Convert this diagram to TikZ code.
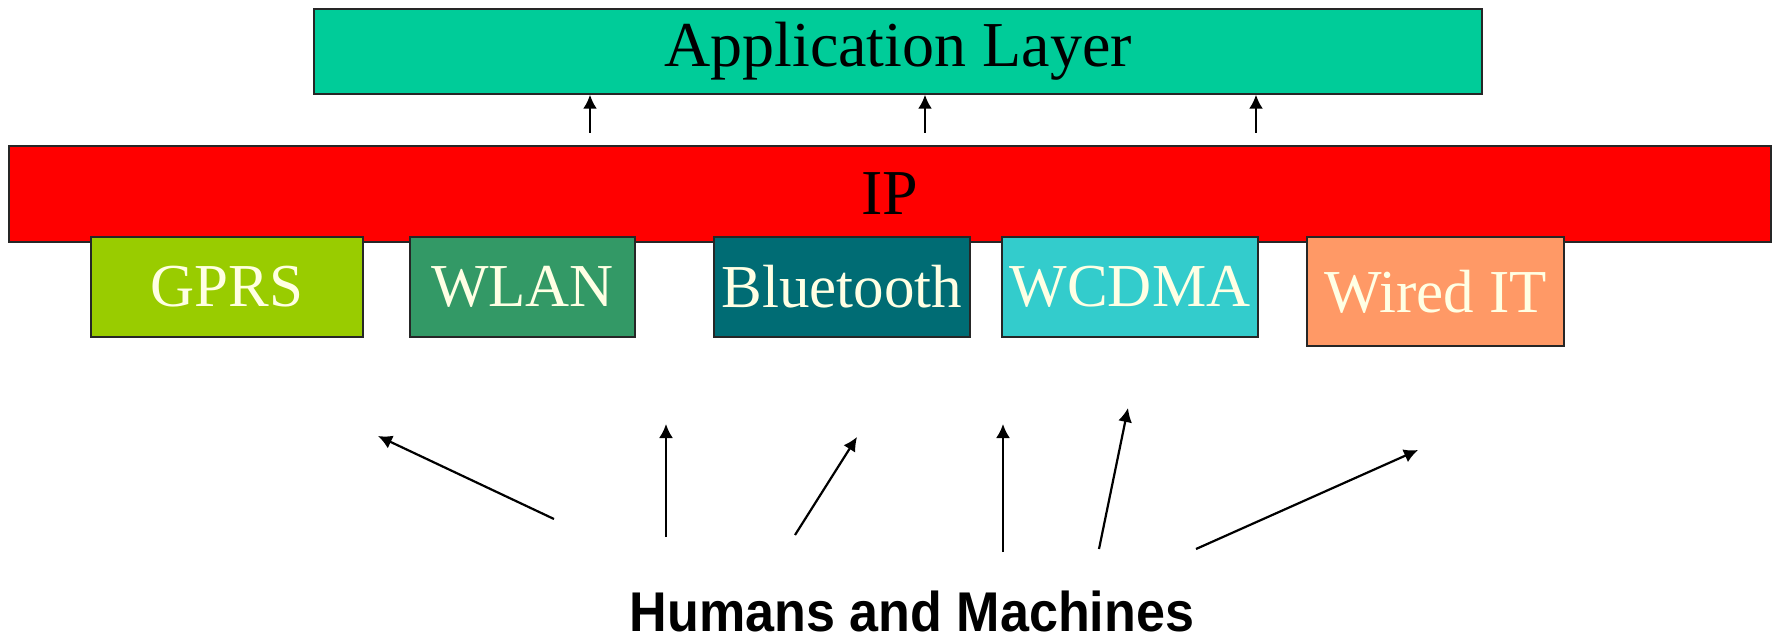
\documentclass[tikz,border=0pt]{standalone}
\usepackage{fontspec}
\setmainfont{Liberation Serif}
\setsansfont{Liberation Sans}
\usetikzlibrary{arrows.meta}

\definecolor{appc}{RGB}{0,204,153}
\definecolor{ipc}{RGB}{255,0,0}
\definecolor{gprsc}{RGB}{153,204,0}
\definecolor{wlanc}{RGB}{51,153,102}
\definecolor{btc}{RGB}{0,108,116}
\definecolor{wcdmac}{RGB}{51,204,204}
\definecolor{wiredc}{RGB}{255,153,102}
\definecolor{labc}{RGB}{255,255,228}

\tikzset{
  layer/.style={draw=black!85, line width=1.5pt, inner sep=0pt, font=\fontsize{64}{64}\selectfont},
  link/.style={layer, minimum height=100pt, text=labc, font=\fontsize{61}{61}\selectfont},
  arr/.style={line width=2.2pt, arrows={-Latex[length=14pt,width=14pt]}}
}

\begin{document}
\begin{tikzpicture}[x=1pt,y=-1pt]
      \useasboundingbox (0,0) rectangle (1777,644);

      \node[layer,fill=appc,minimum width=1168pt,minimum height=85pt] (app) at (898,51.5) {Application Layer};
      \node[layer,fill=ipc,minimum width=1762pt,minimum height=96pt] (ip) at (890,194) {IP};

      \node[link,fill=gprsc,minimum width=272pt] (gprs) at (227,287) {GPRS};
      \node[link,fill=wlanc,minimum width=225pt] (wlan) at (522.5,287) {WLAN};
      \node[link,fill=btc,minimum width=256pt] (bt) at (842,287) {Bluetooth};
      \node[link,fill=wcdmac,minimum width=256pt] (wcdma) at (1130,287) {WCDMA};
      \node[link,fill=wiredc,minimum width=257pt,minimum height=109pt] (wired) at (1435.5,291.5) {Wired IT};

      \node[font=\sffamily\bfseries\fontsize{56}{56}\selectfont,inner sep=0pt,anchor=base] (hm) at (912,631) {\scalebox{0.93}[1]{Humans and Machines}};

      % IP up to the application layer
      \coordinate (up1) at (590,133);
      \coordinate (up2) at (925,133);
      \coordinate (up3) at (1256,133);
      \draw[arr] (up1) -- (up1 |- app.south);
      \draw[arr] (up2) -- (up2 |- app.south);
      \draw[arr] (up3) -- (up3 |- app.south);

      % humans and machines to the links
      \coordinate (src1) at (554,519);
      \coordinate (src2) at (666,537);
      \coordinate (src3) at (795,535);
      \coordinate (src4) at (1003,552);
      \coordinate (src5) at (1099,549);
      \coordinate (src6) at (1196,549);

      \coordinate (tip1) at (378,436);
      \coordinate (tip2) at (666,424);
      \coordinate (tip3) at (857,437);
      \coordinate (tip4) at (1003,424);
      \coordinate (tip5) at (1128,408);
      \coordinate (tip6) at (1418,450);

      \draw[arr] (src1) -- (tip1);
      \draw[arr] (src2) -- (tip2);
      \draw[arr] (src3) -- (tip3);
      \draw[arr] (src4) -- (tip4);
      \draw[arr] (src5) -- (tip5);
      \draw[arr] (src6) -- (tip6);
\end{tikzpicture}
\end{document}
